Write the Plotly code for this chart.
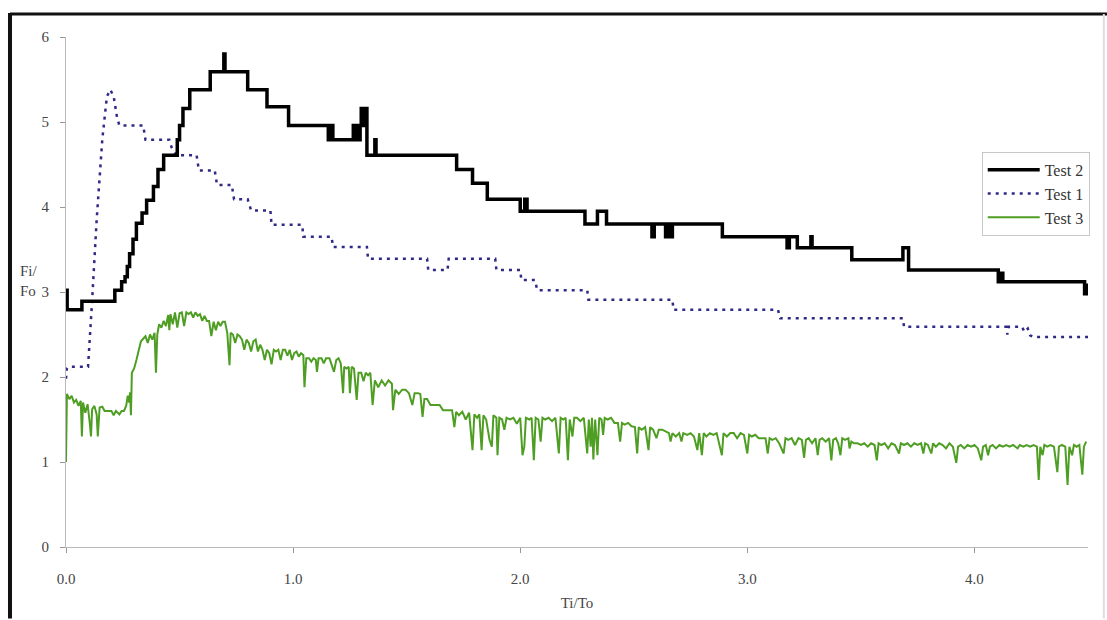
import plotly.graph_objects as go

# ---------------- data ----------------
test2_x = [0.0, 0.005, 0.07, 0.215, 0.245, 0.26, 0.27, 0.28, 0.295, 0.31, 0.335, 0.355, 0.385, 0.405, 0.43,
           0.49, 0.50, 0.515, 0.545, 0.635, 0.695, 0.70, 0.80, 0.885, 0.98, 1.155, 1.16, 1.175,
           1.265, 1.27, 1.275, 1.28, 1.285, 1.29, 1.295, 1.30, 1.31, 1.315, 1.325, 1.36, 1.365,
           1.72, 1.79, 1.855, 2.0, 2.02, 2.03, 2.285, 2.34, 2.38, 2.58, 2.59, 2.64, 2.65, 2.655, 2.67,
           2.89, 3.175, 3.185, 3.22, 3.28, 3.285, 3.46, 3.685, 3.71, 4.105, 4.12, 4.125, 4.48, 4.485, 4.495]
test2_y = [3.02, 2.79, 2.89, 3.02, 3.12, 3.18, 3.30, 3.45, 3.62, 3.81, 3.93, 4.08, 4.24, 4.44, 4.61,
           4.79, 4.96, 5.16, 5.38, 5.59, 5.80, 5.59, 5.38, 5.18, 4.96, 4.79, 4.96, 4.79,
           4.96, 4.79, 4.96, 4.79, 4.96, 4.79, 4.96, 5.16, 4.96, 5.16, 4.61, 4.79, 4.61,
           4.44, 4.28, 4.09, 3.95, 4.09, 3.95, 3.80, 3.95, 3.80, 3.65, 3.80, 3.65, 3.80, 3.65, 3.80,
           3.65, 3.52, 3.65, 3.52, 3.65, 3.52, 3.38, 3.52, 3.26, 3.12, 3.22, 3.12, 3.12, 2.98, 3.10]

test1_x = [0.0, 0.004, 0.01, 0.097, 0.115, 0.135, 0.16, 0.18, 0.195, 0.21, 0.225, 0.235, 0.34, 0.35,
           0.455, 0.465, 0.485, 0.575, 0.585, 0.655, 0.665, 0.73, 0.74, 0.80, 0.815, 0.90, 0.905,
           1.04, 1.045, 1.17, 1.175, 1.325, 1.33, 1.59, 1.595, 1.68, 1.685, 1.89, 1.895, 2.0, 2.005,
           2.065, 2.075, 2.295, 2.30, 2.67, 2.675, 3.135, 3.145, 3.685, 3.69, 4.14, 4.145, 4.15,
           4.21, 4.22, 4.235, 4.245, 4.26, 4.50]
test1_y = [1.98, 2.10, 2.12, 2.12, 2.90, 3.85, 4.80, 5.30, 5.38, 5.30, 5.05, 4.96, 4.96, 4.79,
           4.79, 4.70, 4.61, 4.61, 4.43, 4.43, 4.26, 4.26, 4.09, 4.09, 3.96, 3.96, 3.79,
           3.79, 3.65, 3.65, 3.53, 3.53, 3.39, 3.39, 3.26, 3.26, 3.39, 3.39, 3.26, 3.26, 3.14,
           3.14, 3.02, 3.02, 2.91, 2.91, 2.79, 2.79, 2.69, 2.69, 2.59, 2.59, 2.50, 2.59,
           2.59, 2.53, 2.57, 2.49, 2.47, 2.47]

test3_x = [0.000, 0.004, 0.015, 0.025, 0.035, 0.045, 0.055, 0.065, 0.070, 0.075, 0.085, 0.095, 0.105, 0.110,
           0.115, 0.125, 0.135, 0.140, 0.148, 0.160, 0.170, 0.185, 0.200, 0.210, 0.220, 0.235, 0.245, 0.255,
           0.265, 0.272, 0.278, 0.282, 0.286, 0.290, 0.300, 0.310, 0.320, 0.330, 0.340, 0.350, 0.360, 0.370,
           0.380, 0.390, 0.396, 0.402, 0.410, 0.420, 0.430, 0.440, 0.450, 0.455, 0.460, 0.470, 0.480, 0.490,
           0.500, 0.510, 0.520, 0.530, 0.540, 0.550, 0.560, 0.570, 0.580, 0.590, 0.600, 0.610, 0.620, 0.630,
           0.640, 0.650, 0.660, 0.670, 0.680, 0.690, 0.700, 0.710, 0.720, 0.725, 0.735, 0.745, 0.755, 0.765,
           0.775, 0.785, 0.795, 0.805, 0.815, 0.825, 0.835, 0.845, 0.855, 0.865, 0.875, 0.885, 0.895, 0.905,
           0.915, 0.925, 0.935, 0.945, 0.955, 0.965, 0.975, 0.985, 0.995, 1.005, 1.015, 1.025, 1.035, 1.045,
           1.050, 1.058, 1.070, 1.080, 1.090, 1.100, 1.105, 1.112, 1.125, 1.135, 1.145, 1.160, 1.170, 1.180,
           1.190, 1.200, 1.210, 1.220, 1.225, 1.235, 1.245, 1.250, 1.258, 1.268, 1.280, 1.288, 1.300, 1.310,
           1.320, 1.330, 1.340, 1.350, 1.360, 1.375, 1.390, 1.405, 1.420, 1.435, 1.440, 1.450, 1.465, 1.480,
           1.495, 1.510, 1.525, 1.535, 1.550, 1.560, 1.570, 1.578, 1.590, 1.605, 1.625, 1.645, 1.660, 1.680,
           1.700, 1.710, 1.718, 1.730, 1.745, 1.760, 1.775, 1.790, 1.798, 1.810, 1.820, 1.830, 1.838, 1.850,
           1.865, 1.875, 1.882, 1.895, 1.900, 1.908, 1.920, 1.930, 1.940, 1.955, 1.970, 1.985, 2.000, 2.010,
           2.018, 2.025, 2.040, 2.050, 2.060, 2.068, 2.080, 2.090, 2.098, 2.110, 2.125, 2.140, 2.155, 2.170,
           2.178, 2.190, 2.200, 2.210, 2.218, 2.230, 2.238, 2.250, 2.265, 2.280, 2.295, 2.302, 2.310, 2.316,
           2.322, 2.330, 2.340, 2.348, 2.358, 2.365, 2.372, 2.385, 2.400, 2.415, 2.430, 2.440, 2.448, 2.460,
           2.475, 2.490, 2.505, 2.515, 2.522, 2.535, 2.550, 2.565, 2.572, 2.585, 2.600, 2.610, 2.625, 2.640,
           2.655, 2.662, 2.670, 2.685, 2.700, 2.710, 2.718, 2.735, 2.750, 2.765, 2.780, 2.788, 2.800, 2.808,
           2.820, 2.835, 2.850, 2.865, 2.880, 2.888, 2.895, 2.910, 2.925, 2.940, 2.955, 2.970, 2.985, 3.000,
           3.008, 3.020, 3.035, 3.050, 3.065, 3.080, 3.090, 3.098, 3.110, 3.125, 3.140, 3.160, 3.168, 3.180,
           3.195, 3.210, 3.225, 3.240, 3.250, 3.258, 3.270, 3.285, 3.300, 3.310, 3.318, 3.330, 3.345, 3.360,
           3.370, 3.378, 3.390, 3.400, 3.410, 3.418, 3.430, 3.445, 3.450, 3.458, 3.470, 3.485, 3.500, 3.515,
           3.530, 3.545, 3.560, 3.570, 3.578, 3.590, 3.605, 3.620, 3.635, 3.650, 3.668, 3.676, 3.690, 3.705,
           3.720, 3.735, 3.750, 3.765, 3.775, 3.783, 3.795, 3.810, 3.818, 3.830, 3.845, 3.860, 3.875, 3.890,
           3.905, 3.920, 3.928, 3.940, 3.955, 3.970, 3.985, 4.000, 4.015, 4.030, 4.038, 4.050, 4.060, 4.068,
           4.080, 4.095, 4.110, 4.125, 4.140, 4.155, 4.170, 4.190, 4.200, 4.215, 4.230, 4.245, 4.260, 4.275,
           4.283, 4.290, 4.300, 4.308, 4.320, 4.335, 4.350, 4.365, 4.372, 4.385, 4.400, 4.410, 4.418, 4.430,
           4.438, 4.450, 4.462, 4.475, 4.482, 4.492]
test3_y = [1.00, 1.80, 1.74, 1.78, 1.70, 1.73, 1.66, 1.72, 1.30, 1.70, 1.58, 1.68, 1.45, 1.30,
           1.62, 1.66, 1.56, 1.30, 1.64, 1.65, 1.60, 1.60, 1.60, 1.55, 1.60, 1.56, 1.60, 1.60,
           1.66, 1.78, 1.70, 1.82, 1.55, 2.05, 2.10, 2.20, 2.30, 2.42, 2.45, 2.48, 2.40, 2.50,
           2.44, 2.52, 2.05, 2.50, 2.62, 2.58, 2.66, 2.60, 2.73, 2.55, 2.74, 2.62, 2.76, 2.58,
           2.75, 2.76, 2.60, 2.76, 2.74, 2.76, 2.70, 2.76, 2.72, 2.74, 2.66, 2.72, 2.66, 2.66,
           2.48, 2.65, 2.55, 2.65, 2.60, 2.65, 2.65, 2.52, 2.14, 2.52, 2.50, 2.40, 2.50, 2.48,
           2.44, 2.32, 2.44, 2.40, 2.30, 2.42, 2.44, 2.30, 2.38, 2.32, 2.20, 2.32, 2.28, 2.15,
           2.32, 2.30, 2.32, 2.20, 2.32, 2.32, 2.25, 2.32, 2.20, 2.28, 2.30, 2.24, 2.28, 2.26,
           1.88, 2.22, 2.22, 2.18, 2.22, 2.20, 2.06, 2.22, 2.22, 2.16, 2.22, 2.22, 2.14, 2.06,
           2.20, 2.22, 2.16, 1.81, 2.12, 2.10, 2.12, 1.81, 2.12, 2.10, 1.73, 2.05, 2.05, 1.95,
           2.05, 2.02, 2.05, 1.67, 1.96, 1.88, 1.96, 1.90, 1.96, 1.92, 1.61, 1.85, 1.80, 1.85,
           1.85, 1.81, 1.67, 1.81, 1.81, 1.80, 1.53, 1.74, 1.74, 1.67, 1.67, 1.67, 1.61, 1.61,
           1.61, 1.41, 1.59, 1.55, 1.59, 1.50, 1.58, 1.14, 1.56, 1.52, 1.56, 1.14, 1.55, 1.50,
           1.26, 1.18, 1.55, 1.52, 1.08, 1.52, 1.50, 1.38, 1.52, 1.50, 1.52, 1.45, 1.52, 1.08,
           1.18, 1.52, 1.50, 1.52, 1.02, 1.52, 1.50, 1.24, 1.52, 1.50, 1.52, 1.48, 1.52, 1.10,
           1.52, 1.50, 1.52, 1.02, 1.50, 1.30, 1.52, 1.52, 1.48, 1.52, 1.10, 1.50, 1.18, 1.52,
           1.03, 1.50, 1.08, 1.52, 1.50, 1.32, 1.52, 1.50, 1.52, 1.46, 1.46, 1.24, 1.46, 1.44,
           1.46, 1.42, 1.41, 1.10, 1.41, 1.38, 1.41, 1.14, 1.41, 1.38, 1.28, 1.38, 1.38, 1.36,
           1.34, 1.24, 1.34, 1.30, 1.34, 1.24, 1.34, 1.32, 1.34, 1.30, 1.14, 1.34, 1.08, 1.34,
           1.30, 1.34, 1.32, 1.34, 1.18, 1.08, 1.34, 1.30, 1.34, 1.34, 1.28, 1.34, 1.32, 1.10,
           1.32, 1.30, 1.32, 1.28, 1.28, 1.28, 1.10, 1.28, 1.26, 1.28, 1.22, 1.10, 1.28, 1.26,
           1.28, 1.20, 1.28, 1.26, 1.05, 1.26, 1.28, 1.22, 1.28, 1.08, 1.26, 1.28, 1.24, 1.28,
           1.02, 1.26, 1.28, 1.22, 1.08, 1.28, 1.26, 1.28, 1.16, 1.24, 1.22, 1.22, 1.20, 1.22,
           1.18, 1.22, 1.20, 1.02, 1.22, 1.20, 1.22, 1.16, 1.22, 1.20, 1.10, 1.22, 1.20, 1.22,
           1.18, 1.22, 1.20, 1.22, 1.10, 1.22, 1.20, 1.10, 1.22, 1.18, 1.22, 1.20, 1.16, 1.22,
           1.18, 0.99, 1.18, 1.20, 1.16, 1.20, 1.18, 1.20, 1.16, 1.02, 1.18, 1.20, 1.08, 1.18,
           1.20, 1.16, 1.20, 1.18, 1.20, 1.18, 1.20, 1.16, 1.20, 1.18, 1.20, 1.18, 1.20, 1.18,
           0.79, 1.18, 1.08, 1.20, 1.18, 1.20, 1.18, 0.88, 1.18, 1.20, 1.18, 0.73, 1.18, 1.08,
           1.20, 1.18, 1.20, 0.85, 1.18, 1.24]

x_ticks = [0.0, 1.0, 2.0, 3.0, 4.0]
x_tick_labels = ["0.0", "1.0", "2.0", "3.0", "4.0"]
y_ticks = [0, 1, 2, 3, 4, 5, 6]

# ---------------- figure ----------------
FONT = "Liberation Serif"
fig = go.Figure()

fig.add_trace(go.Scatter(x=test3_x, y=test3_y, mode="lines", name="Test 3",
                         line=dict(color="#4f9e24", width=2)))
fig.add_trace(go.Scatter(x=test1_x, y=test1_y, mode="lines", name="Test 1",
                         line=dict(color="#2e2a86", width=2.5, dash="3px,5px")))
fig.add_trace(go.Scatter(x=test2_x, y=test2_y, mode="lines", name="Test 2", line_shape="hv",
                         line=dict(color="#000000", width=3.5)))

fig.update_layout(
    width=1107, height=620, autosize=False,
    margin=dict(l=66, r=19, t=37, b=73),
    paper_bgcolor="white", plot_bgcolor="white",
    font=dict(family=FONT, size=15, color="#444444"),
    showlegend=True,
    legend=dict(x=0.896, y=0.775, xanchor="left", yanchor="top",
                bgcolor="white", bordercolor="#c8c8c8", borderwidth=1,
                traceorder="reversed", font=dict(family=FONT, size=16, color="#333333"),
                itemwidth=52, tracegroupgap=0),
    xaxis=dict(range=[0, 4.5], tickvals=x_ticks, ticktext=x_tick_labels,
               showgrid=False, zeroline=False, showline=True, linecolor="#b8b8b8", linewidth=1,
               ticks="outside", ticklen=5, tickcolor="#999999", ticklabelstandoff=13,
               title=dict(text="Ti/To", standoff=11, font=dict(family=FONT, size=15, color="#444444"))),
    yaxis=dict(range=[0, 6], tickvals=y_ticks, showgrid=False, zeroline=False,
               showline=True, linecolor="#b8b8b8", linewidth=1,
               ticks="outside", ticklen=5, tickcolor="#999999", ticklabelstandoff=8),
    annotations=[dict(text="Fi/<br>Fo", xref="paper", yref="y", x=-0.047, y=3.13,
                      xanchor="left", yanchor="middle", showarrow=False, align="left",
                      font=dict(family=FONT, size=15, color="#444444"))],
    shapes=[
        dict(type="line", xref="paper", yref="paper", x0=-0.0548, x1=1.02, y0=1.045, y1=1.045,
             line=dict(color="#111111", width=3)),
        dict(type="line", xref="paper", yref="paper", x0=-0.0548, x1=-0.0548, y0=1.047, y1=-0.14,
             line=dict(color="#111111", width=4)),
        dict(type="line", xref="paper", yref="paper", x0=1.0155, x1=1.0155, y0=1.045, y1=-0.14,
             line=dict(color="#dddddd", width=2)),
    ],
)

fig.write_html("out.html")
